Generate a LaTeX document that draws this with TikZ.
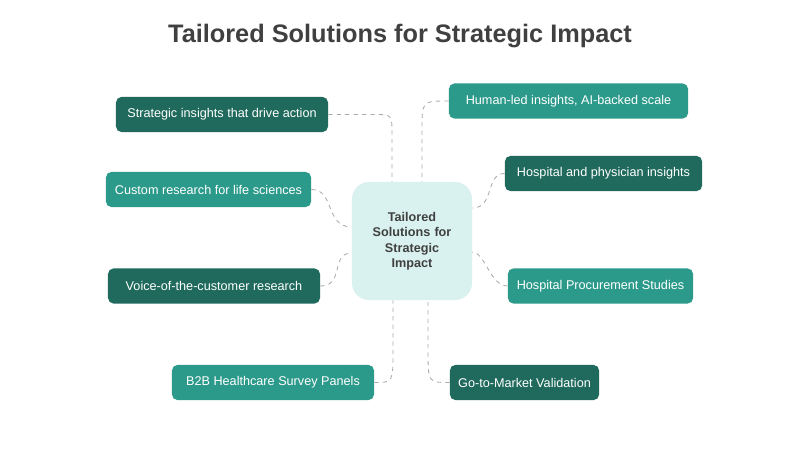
\documentclass[tikz,border=0pt]{standalone}
\usepackage{fontspec}
\setmainfont{Liberation Sans}
\usetikzlibrary{calc}
\definecolor{darkteal}{HTML}{1F6A5C}
\definecolor{liteteal}{HTML}{2C9A8A}
\definecolor{hubfill}{HTML}{D9F2EF}
\definecolor{linkgray}{HTML}{AAAAAA}
\tikzset{
  box/.style={rounded corners=4pt, text=white, inner sep=0pt, font=\fontsize{9}{11}\selectfont, minimum height=0.88cm},
  darkbox/.style={box, fill=darkteal},
  litebox/.style={box, fill=liteteal},
  link/.style={draw=linkgray, dashed, line width=0.6pt},
}
\begin{document}
\begin{tikzpicture}[x=0.025cm, y=-0.025cm]
  \useasboundingbox (0,0) rectangle (800,451);
  \node[font=\bfseries\fontsize{18}{21}\selectfont, text=black!75] (title) at (400,36) {Tailored Solutions for Strategic Impact};
  \node[fill=hubfill, rounded corners=12pt, minimum width=3cm, minimum height=2.95cm, text width=2.6cm, align=center, font=\bfseries\fontsize{9}{11}\selectfont, text=black!75] (hub) at (412,241) {Tailored\\Solutions for\\Strategic\\Impact};
  % left side
  \node[darkbox, minimum width=5.3cm] (insight) at (222,114.5) {Strategic insights that drive action};
  \node[litebox, minimum width=5.13cm] (custom) at (208.5,189.5) {Custom research for life sciences};
  \node[darkbox, minimum width=5.3cm] (voice) at (214,286) {Voice-of-the-customer research};
  \node[litebox, minimum width=5.05cm] (panels) at (273,382.5) {B2B Healthcare Survey Panels};
  % right side
  \node[litebox, minimum width=5.98cm] (human) at (568.5,101) {Human-led insights, AI-backed scale};
  \node[darkbox, minimum width=4.93cm] (hospital) at (603.5,173.5) {Hospital and physician insights};
  \node[litebox, minimum width=4.63cm] (procure) at (600.5,286) {Hospital Procurement Studies};
  \node[darkbox, minimum width=3.73cm] (market) at (524.5,382.5) {Go-to-Market Validation};
  % links
  \draw[link] (insight.east) -- (375,114.5) .. controls (392,114.5) .. (392,135) -- ($(hub.north)+(-20,0)$);
  \draw[link] (human.west) .. controls (422,101) .. (422,130) -- ($(hub.north)+(10,0)$);
  \draw[link] (custom.east) .. controls (335,189.5) and (325,227) .. ($(hub.west)+(0,-14)$);
  \draw[link] (voice.east) .. controls (345,286) and (330,253) .. ($(hub.west)+(0,12)$);
  \draw[link] (hospital.west) .. controls (485,173.5) and (495,208) .. ($(hub.east)+(0,-33)$);
  \draw[link] (procure.west) .. controls (490,286) and (485,252) .. ($(hub.east)+(0,11)$);
  \draw[link] (panels.east) .. controls (393,382.5) .. (393,350) -- ($(hub.south)+(-19,0)$);
  \draw[link] (market.west) .. controls (428,382.5) .. (428,350) -- ($(hub.south)+(16,0)$);
\end{tikzpicture}
\end{document}
